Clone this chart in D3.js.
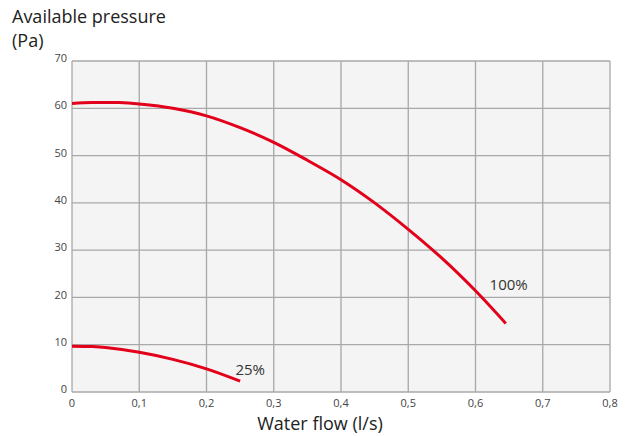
<!DOCTYPE html>
<html>
<head>
<meta charset="utf-8">
<script src="https://cdn.jsdelivr.net/npm/d3@7"></script>
<style>
  body { margin: 0; background: #fff; font-family: "Open Sans", "Noto Sans", sans-serif; }
</style>
</head>
<body>
<div id="chart"></div>
<script>
// x ticks / y ticks
const xTicks = [0, 0.1, 0.2, 0.3, 0.4, 0.5, 0.6, 0.7, 0.8];
const yTicks = [0, 10, 20, 30, 40, 50, 60, 70];

// 100% curve
const flow100 = [0, 0.03, 0.07, 0.1, 0.15, 0.2, 0.25, 0.3, 0.35, 0.4, 0.45, 0.5, 0.55, 0.6, 0.645];
const pres100 = [61.0, 61.2, 61.2, 60.9, 60.0, 58.4, 55.9, 52.8, 49.0, 44.9, 40.0, 34.4, 28.3, 21.4, 14.5];
// 25% curve
const flow25 = [0, 0.03, 0.05, 0.1, 0.15, 0.2, 0.25];
const pres25 = [9.7, 9.6, 9.4, 8.4, 6.9, 4.9, 2.3];

const seriesLabels = ["100%", "25%"];

const W = 625, H = 436;
const margin = { top: 61, right: 15, bottom: 44, left: 72 };
const width = W - margin.left - margin.right;
const height = H - margin.top - margin.bottom;

const svg = d3.select("#chart").append("svg")
    .attr("width", W)
    .attr("height", H);

const g = svg.append("g")
    .attr("transform", "translate(" + margin.left + "," + margin.top + ")");

const x = d3.scaleLinear().domain([0, 0.8]).range([0, width]);
const y = d3.scaleLinear().domain([0, 70]).range([height, 0]);

// plot background
g.append("rect")
    .attr("width", width)
    .attr("height", height)
    .attr("fill", "#f4f4f4");

// grid
g.selectAll(".vgrid").data(xTicks).enter().append("line")
    .attr("x1", d => x(d)).attr("x2", d => x(d))
    .attr("y1", 0).attr("y2", height)
    .attr("stroke", "#a8a8a8").attr("stroke-width", 1.3);
g.selectAll(".hgrid").data(yTicks).enter().append("line")
    .attr("x1", 0).attr("x2", width)
    .attr("y1", d => y(d)).attr("y2", d => y(d))
    .attr("stroke", "#a8a8a8").attr("stroke-width", 1.3);

// tick labels
const fmt = d => d === 0 ? "0" : d3.format(".1f")(d).replace(".", ",");
g.selectAll(".xlab").data(xTicks).enter().append("text")
    .attr("x", d => x(d))
    .attr("y", height + 15)
    .attr("text-anchor", "middle")
    .attr("font-size", 11)
    .attr("fill", "#444")
    .text(fmt);
g.selectAll(".ylab").data(yTicks).enter().append("text")
    .attr("x", -5)
    .attr("y", d => y(d))
    .attr("dy", "0.1em")
    .attr("text-anchor", "end")
    .attr("font-size", 11)
    .attr("fill", "#444")
    .text(d => d);

// curves
const line = d3.line()
    .x(d => x(d[0]))
    .y(d => y(d[1]))
    .curve(d3.curveCatmullRom.alpha(0.5));

const c100 = d3.zip(flow100, pres100);
const c25 = d3.zip(flow25, pres25);

[c100, c25].forEach(c => {
    g.append("path")
        .datum(c)
        .attr("d", line)
        .attr("fill", "none")
        .attr("stroke", "#e2001a")
        .attr("stroke-width", 3);
});

// series labels
g.append("text")
    .attr("x", x(0.621))
    .attr("y", y(21.5))
    .attr("font-size", 15)
    .attr("fill", "#333")
    .text(seriesLabels[0]);
g.append("text")
    .attr("x", x(0.243))
    .attr("y", y(3.6))
    .attr("font-size", 15)
    .attr("fill", "#333")
    .text(seriesLabels[1]);

// axis titles
svg.append("text")
    .attr("x", 12)
    .attr("y", 23)
    .attr("font-size", 18)
    .attr("fill", "#222")
    .text("Available pressure");
svg.append("text")
    .attr("x", 12)
    .attr("y", 47)
    .attr("font-size", 18)
    .attr("fill", "#222")
    .text("(Pa)");
svg.append("text")
    .attr("x", 320)
    .attr("y", 430)
    .attr("text-anchor", "middle")
    .attr("font-size", 18)
    .attr("fill", "#222")
    .text("Water flow (l/s)");
</script>
</body>
</html>
